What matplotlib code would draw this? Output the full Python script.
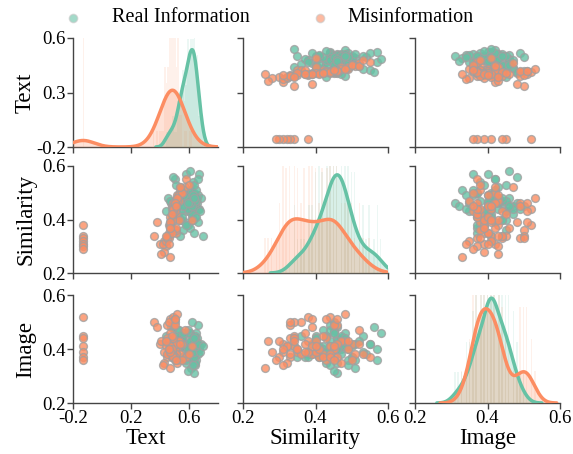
import numpy as np
import matplotlib
matplotlib.use("Agg")
from matplotlib import pyplot as plt
from matplotlib.lines import Line2D

plt.rcParams['font.family'] = ['Liberation Serif', 'DejaVu Serif']

GREEN = "#66c2a5"
ORANGE = "#fc8d62"

variables = ["Text", "Similarity", "Image"]
class_names = ["Real Information", "Misinformation"]

# real information samples
real_text = [0.603, 0.634, 0.535, 0.618, 0.656, 0.577, 0.503, 0.646, 0.594, 0.624,
             0.478, 0.638, 0.582, 0.547, 0.671, 0.562, 0.612, 0.651, 0.592, 0.521,
             0.629, 0.571, 0.555, 0.664, 0.616, 0.538, 0.599, 0.642, 0.544, 0.659,
             0.452, 0.621, 0.605, 0.572, 0.649, 0.631, 0.588, 0.529, 0.609, 0.686,
             0.597, 0.512, 0.635, 0.558, 0.615, 0.661, 0.585, 0.489, 0.623, 0.644,
             0.568, 0.602, 0.632, 0.541, 0.619, 0.441, 0.591, 0.654, 0.551, 0.637,
             0.611, 0.525, 0.596, 0.668, 0.495, 0.639, 0.579, 0.564, 0.622, 0.679,
             0.606, 0.468, 0.645, 0.626, 0.556, 0.663, 0.593, 0.549, 0.633, 0.695]
real_sim = [0.45, 0.50, 0.40, 0.45, 0.46, 0.43, 0.55, 0.48, 0.38, 0.46,
            0.46, 0.41, 0.57, 0.47, 0.44, 0.36, 0.51, 0.47, 0.49, 0.42,
            0.54, 0.39, 0.47, 0.44, 0.50, 0.34, 0.46, 0.44, 0.43, 0.49,
            0.48, 0.41, 0.58, 0.45, 0.51, 0.40, 0.47, 0.45, 0.37, 0.48,
            0.43, 0.53, 0.46, 0.50, 0.44, 0.39, 0.48, 0.56, 0.42, 0.46,
            0.49, 0.45, 0.35, 0.52, 0.47, 0.43, 0.45, 0.48, 0.40, 0.53,
            0.46, 0.49, 0.44, 0.57, 0.42, 0.47, 0.38, 0.51, 0.45, 0.43,
            0.46, 0.47, 0.41, 0.49, 0.45, 0.55, 0.46, 0.41, 0.48, 0.34]
real_img = [0.41, 0.37, 0.45, 0.40, 0.44, 0.35, 0.42, 0.46, 0.38, 0.41,
            0.48, 0.39, 0.36, 0.44, 0.41, 0.45, 0.33, 0.43, 0.40, 0.47,
            0.38, 0.42, 0.41, 0.49, 0.37, 0.44, 0.40, 0.34, 0.45, 0.41,
            0.43, 0.38, 0.46, 0.40, 0.36, 0.44, 0.41, 0.47, 0.37, 0.42,
            0.39, 0.45, 0.31, 0.41, 0.43, 0.38, 0.42, 0.48, 0.40, 0.35,
            0.41, 0.46, 0.37, 0.43, 0.40, 0.45, 0.32, 0.41, 0.44, 0.39,
            0.42, 0.36, 0.47, 0.40, 0.41, 0.45, 0.37, 0.42, 0.50, 0.39,
            0.43, 0.38, 0.41, 0.34, 0.46, 0.42, 0.40, 0.37, 0.44, 0.41]

# misinformation samples (first 7 = cluster with near-empty text)
mis_text = [-0.13, -0.13, -0.13, -0.13, -0.13, -0.13, -0.13,
            0.48, 0.52, 0.45, 0.50, 0.47, 0.55, 0.43, 0.49, 0.51, 0.46,
            0.53, 0.48, 0.40, 0.50, 0.47, 0.52, 0.44, 0.49, 0.57, 0.46,
            0.50, 0.48, 0.36, 0.51, 0.45, 0.49, 0.54, 0.47, 0.42, 0.50,
            0.48, 0.53, 0.46, 0.49, 0.51, 0.44, 0.47, 0.58, 0.50, 0.48,
            0.45, 0.52, 0.49, 0.38, 0.47, 0.50, 0.53, 0.46, 0.48, 0.51,
            0.43, 0.49, 0.55, 0.47, 0.50, 0.45, 0.52, 0.48, 0.41, 0.49,
            0.54, 0.47, 0.50, 0.46, 0.60, 0.48, 0.51, 0.44, 0.62, 0.47]
mis_sim = [0.38, 0.34, 0.33, 0.32, 0.31, 0.30, 0.29,
           0.45, 0.48, 0.33, 0.36, 0.38, 0.50, 0.32, 0.46, 0.42, 0.34,
           0.47, 0.39, 0.31, 0.43, 0.39, 0.49, 0.30, 0.45, 0.52, 0.38,
           0.44, 0.41, 0.34, 0.35, 0.33, 0.46, 0.51, 0.38, 0.31, 0.45,
           0.42, 0.40, 0.35, 0.44, 0.36, 0.32, 0.37, 0.55, 0.43, 0.40,
           0.34, 0.47, 0.45, 0.39, 0.41, 0.46, 0.49, 0.33, 0.44, 0.37,
           0.28, 0.43, 0.50, 0.39, 0.45, 0.33, 0.48, 0.35, 0.27, 0.44,
           0.52, 0.37, 0.46, 0.31, 0.53, 0.42, 0.45, 0.34, 0.40, 0.26]
mis_img = [0.52, 0.45, 0.44, 0.41, 0.39, 0.37, 0.36,
           0.40, 0.43, 0.37, 0.50, 0.39, 0.42, 0.35, 0.49, 0.38, 0.41,
           0.43, 0.38, 0.42, 0.36, 0.51, 0.40, 0.43, 0.37, 0.47, 0.39,
           0.41, 0.37, 0.50, 0.39, 0.49, 0.42, 0.38, 0.43, 0.34, 0.40,
           0.37, 0.43, 0.40, 0.52, 0.38, 0.41, 0.46, 0.37, 0.51, 0.39,
           0.44, 0.35, 0.41, 0.48, 0.40, 0.37, 0.43, 0.50, 0.38, 0.42,
           0.39, 0.44, 0.36, 0.41, 0.49, 0.38, 0.53, 0.40, 0.43, 0.37,
           0.42, 0.39, 0.51, 0.40, 0.38, 0.45, 0.36, 0.43, 0.41, 0.33]

real = [np.array(real_text), np.array(real_sim), np.array(real_img)]
mis = [np.array(mis_text), np.array(mis_sim), np.array(mis_img)]

# axis ranges / ticks per variable
lims = [(-0.2, 0.8), (0.2, 0.6), (0.2, 0.6)]
yticks_row = [[-0.2, 0.3, 0.8], [0.2, 0.4, 0.6], [0.2, 0.4, 0.6]]
ylabels_txt = [["-0.2", "0.3", "0.6"], ["0.2", "0.4", "0.6"], ["0.2", "0.4", "0.6"]]
xticks_col = [[-0.2, 0.2, 0.6], [0.2, 0.4, 0.6], [0.2, 0.4, 0.6]]
xlabels_txt = [["-0.2", "0.2", "0.6"], ["0.2", "0.4", "0.6"], ["0.2", "0.4", "0.6"]]
diag_head = [1.12, 1.09, 1.03]


def kde(x, grid):
    bw = x.std(ddof=1) * len(x) ** (-1 / 5)
    d = (grid[:, None] - x[None, :]) / bw
    return np.exp(-0.5 * d ** 2).sum(axis=1) / (len(x) * bw * np.sqrt(2 * np.pi))


W, H = 573, 454
fig = plt.figure(figsize=(W / 100, H / 100), dpi=100)

col_left = [73, 243, 415]
col_w = 145
row_top = [38, 166, 295]
row_h = [109, 107, 108]

spine_col = "#444444"

for i in range(3):          # row -> y variable
    for j in range(3):      # col -> x variable
        ax = fig.add_axes([col_left[j] / W, 1 - (row_top[i] + row_h[i]) / H,
                           col_w / W, row_h[i] / H])
        for s in ["top", "right"]:
            ax.spines[s].set_visible(False)
        for s in ["left", "bottom"]:
            ax.spines[s].set_color(spine_col)
            ax.spines[s].set_linewidth(1.0)
        ax.set_xlim(*lims[j])
        ax.set_ylim(*lims[i])
        ax.set_xticks(xticks_col[j])
        ax.set_yticks(yticks_row[i])
        ax.tick_params(direction="out", length=4, width=1, color=spine_col,
                       labelsize=13.5, pad=1)
        if j == 0:
            ax.set_yticklabels(ylabels_txt[i])
            ax.set_ylabel(variables[i], fontsize=16.5)
            ax.yaxis.set_label_coords(-0.255, 0.5)
        else:
            ax.set_yticklabels([])
        if i == 2:
            ax.set_xticklabels(xlabels_txt[j])
            ax.set_xlabel(variables[j], fontsize=16.5)
            ax.xaxis.set_label_coords(0.5, -0.235)
        else:
            ax.set_xticklabels([])

        if i == j:
            dax = ax.twinx()
            dax.set_axis_off()
            grid = np.linspace(lims[j][0], lims[j][1], 400)
            peak = 0
            for data, c in [(real[j], GREEN), (mis[j], ORANGE)]:
                dax.hist(data, bins=np.linspace(lims[j][0], lims[j][1], 90),
                         density=True, color=c, alpha=0.12, linewidth=0)
            for data, c in [(real[j], GREEN), (mis[j], ORANGE)]:
                bw = data.std(ddof=1) * len(data) ** (-1 / 5)
                g = grid[(grid >= data.min() - 3 * bw) & (grid <= data.max() + 3 * bw)]
                k = kde(data, g)
                peak = max(peak, k.max())
                dax.fill_between(g, k, color=c, alpha=0.25, linewidth=0)
                dax.plot(g, k, color=c, linewidth=2.5, solid_capstyle="round")
            dax.set_ylim(0, peak * diag_head[j])
            dax.set_xlim(*lims[j])
        else:
            for data, c in [(real, GREEN), (mis, ORANGE)]:
                ax.scatter(data[j], data[i], s=32, color=c, alpha=0.8,
                           edgecolor="#a0a0a0", linewidth=1.0, zorder=3)

# legend row at the top
leg_marker_x = [73, 320]
leg_text_x = [112, 347]
for c, name, mx, tx in zip([GREEN, ORANGE], class_names, leg_marker_x, leg_text_x):
    fig.add_artist(Line2D([mx / W], [1 - 18 / H], marker="o", linestyle="",
                          markersize=6, markerfacecolor=c,
                          markeredgecolor="#c8c8c8", alpha=0.6,
                          transform=fig.transFigure))
    fig.text(tx / W, 1 - 17 / H, name, fontsize=14.5, ha="left", va="center")

fig.savefig("out.png", dpi=100)
